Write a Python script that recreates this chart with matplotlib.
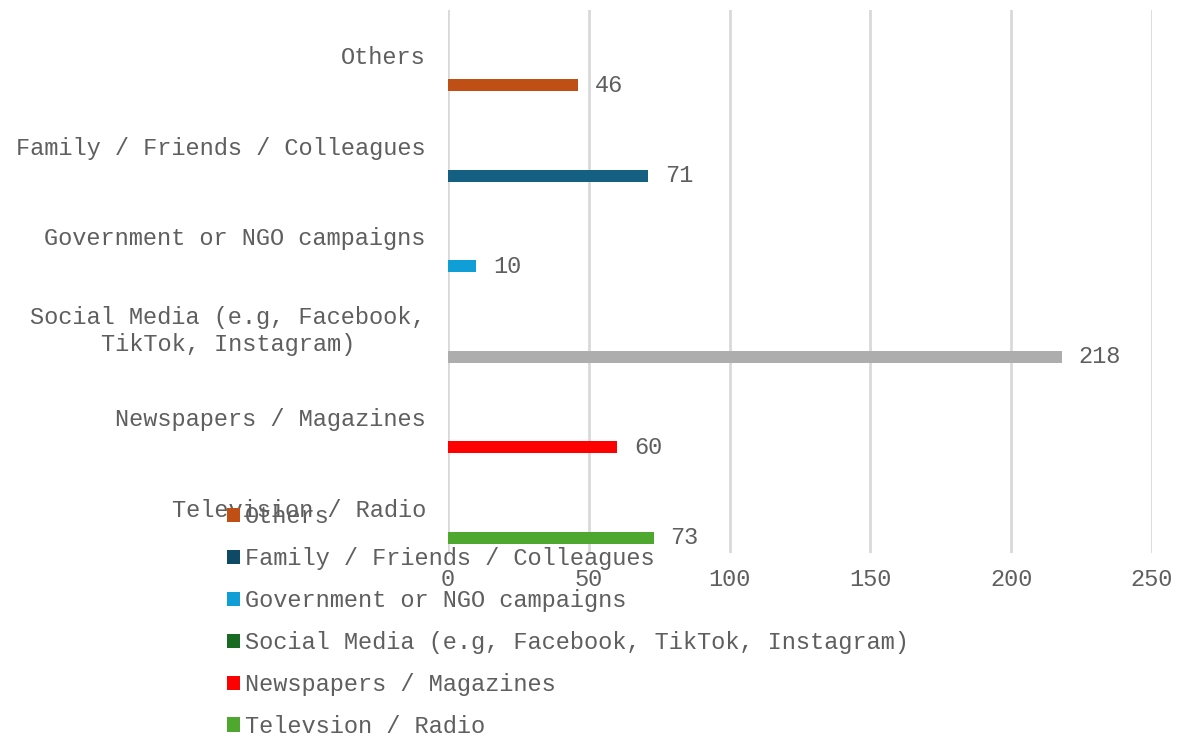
import matplotlib
matplotlib.use("Agg")
import matplotlib.pyplot as plt
from matplotlib.patches import Patch

categories = ["Television / Radio", "Newspapers / Magazines",
              "Social Media (e.g, Facebook,\nTikTok, Instagram)",
              "Government or NGO campaigns", "Family / Friends / Colleagues", "Others"]
values = [73, 60, 218, 10, 71, 46]
bar_colors = ["#4EA72E", "#FF0000", "#ADADAD", "#0F9ED5", "#156082", "#C04F15"]

legend_labels = ["Others", "Family / Friends / Colleagues", "Government or NGO campaigns",
                 "Social Media (e.g, Facebook, TikTok, Instagram)", "Newspapers / Magazines",
                 "Televsion / Radio"]
legend_colors = ["#C04F15", "#0E4A66", "#0F9ED5", "#196B24", "#FF0000", "#4EA72E"]

xticks = [0, 50, 100, 150, 200, 250]

plt.rcParams['font.family'] = ['Liberation Mono', 'DejaVu Sans']
txt = "#5F5F5F"
fs = 17

fig = plt.figure(figsize=(11.91, 7.40), dpi=100)
ax = fig.add_axes([448/1191, 1 - 553/740, (1152-448)/1191, (553-10)/740])

ypos = list(range(len(categories)))
for i, (v, c) in enumerate(zip(values, bar_colors)):
    ax.barh(i - 0.33, v, height=0.135, color=c, zorder=3)
    ax.text(v + 6, i - 0.33, str(v), va='center', ha='left', fontsize=fs, color=txt)

ax.set_xlim(0, 250)
ax.set_ylim(-0.5, 5.5)
ax.set_xticks(xticks)
ax.set_xticklabels([str(t) for t in xticks], fontsize=fs, color=txt)
ax.set_yticks(ypos)
ax.set_yticklabels(categories, fontsize=fs, color=txt, multialignment='center')
ax.tick_params(axis='both', length=0)
ax.tick_params(axis='y', pad=16)
ax.tick_params(axis='x', pad=11)
ax.grid(axis='x', color='#D9D9D9', linewidth=2, zorder=0)
for s in ax.spines.values():
    s.set_visible(False)

handles = [Patch(facecolor=c, edgecolor='none') for c in legend_colors]
leg = fig.legend(handles, legend_labels, loc='upper left',
                 bbox_to_anchor=(218/1191, 1 - 496/740), frameon=False,
                 fontsize=fs, handlelength=0.55, handleheight=0.55,
                 handletextpad=0.2, labelspacing=0.8, borderaxespad=0)
for t in leg.get_texts():
    t.set_color(txt)

fig.savefig("out.png", dpi=100, facecolor='white')
